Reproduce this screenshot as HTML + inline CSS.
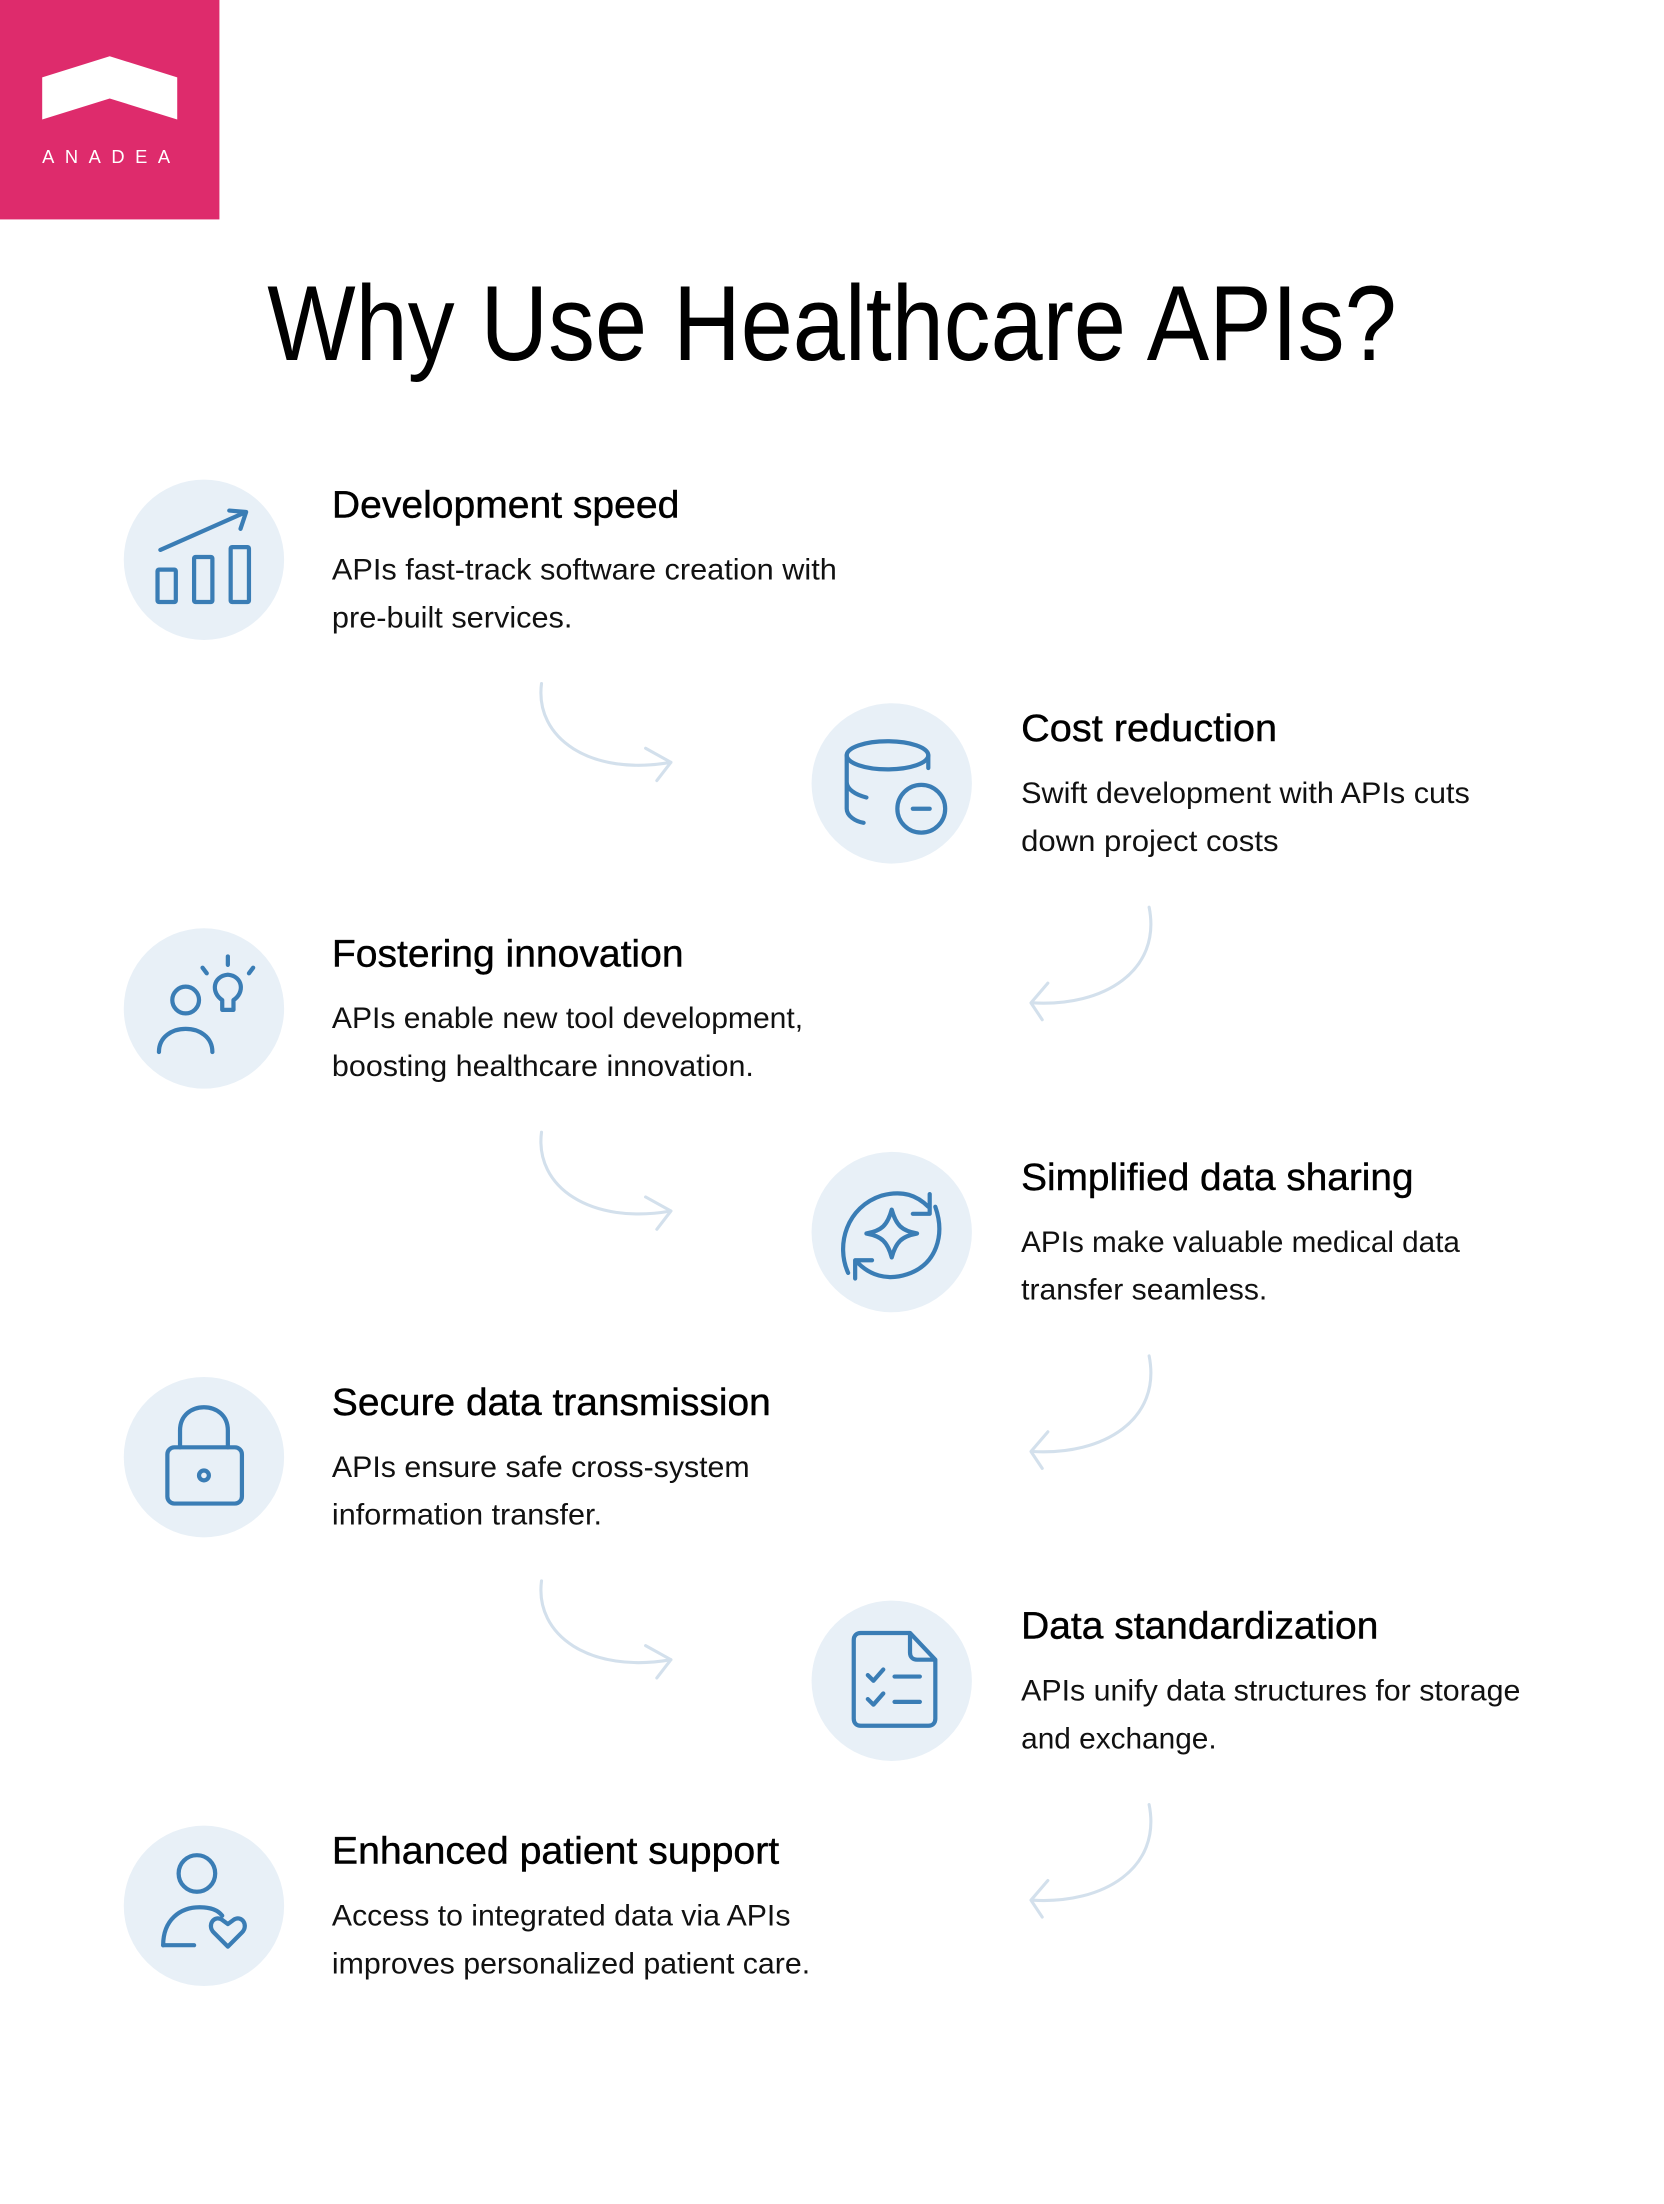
<!DOCTYPE html>
<html><head><meta charset="utf-8"><style>
html,body{margin:0;padding:0;background:#fff;width:1664px;height:2204px;overflow:hidden}
svg{display:block}
text{font-family:"Liberation Sans",sans-serif;fill:#000}
.h{font-size:27px;stroke:#000;stroke-width:0.3px}
.b{font-size:21px;fill:#111}
.ic{fill:none;stroke:#3A7DB5;stroke-width:3;stroke-linecap:round;stroke-linejoin:round}
.ar{fill:none;stroke:#D3E0EC;stroke-width:2.2;stroke-linecap:round;stroke-linejoin:round}
.c{fill:#E8F0F7}
</style></head><body>
<svg width="1664" height="2204" viewBox="0 0 1183 1567" preserveAspectRatio="xMinYMin meet" xmlns="http://www.w3.org/2000/svg">
<rect x="0" y="0" width="156" height="156" fill="#DE2B6C"/>
<polygon points="30,55 78,40 126,55 126,85 78,70 30,85" fill="#fff"/>
<text x="30" y="116" style="font-size:13px;fill:#fff;letter-spacing:7.5px">ANADEA</text>

<text x="190" y="256" style="font-size:76px" textLength="803" lengthAdjust="spacingAndGlyphs">Why Use Healthcare APIs?</text>

<circle class="c" cx="145" cy="398" r="57"/>
<circle class="c" cx="634" cy="557" r="57"/>
<circle class="c" cx="145" cy="717" r="57"/>
<circle class="c" cx="634" cy="876" r="57"/>
<circle class="c" cx="145" cy="1036" r="57"/>
<circle class="c" cx="634" cy="1195" r="57"/>
<circle class="c" cx="145" cy="1355" r="57"/>

<text class="h" x="236" y="368" textLength="247" lengthAdjust="spacingAndGlyphs">Development speed</text>
<text class="b" x="236" y="412" textLength="359" lengthAdjust="spacingAndGlyphs">APIs fast-track software creation with</text>
<text class="b" x="236" y="446" textLength="171" lengthAdjust="spacingAndGlyphs">pre-built services.</text>

<text class="h" x="726" y="527" textLength="182" lengthAdjust="spacingAndGlyphs">Cost reduction</text>
<text class="b" x="726" y="571" textLength="319" lengthAdjust="spacingAndGlyphs">Swift development with APIs cuts</text>
<text class="b" x="726" y="605" textLength="183" lengthAdjust="spacingAndGlyphs">down project costs</text>

<text class="h" x="236" y="687" textLength="250" lengthAdjust="spacingAndGlyphs">Fostering innovation</text>
<text class="b" x="236" y="731" textLength="335" lengthAdjust="spacingAndGlyphs">APIs enable new tool development,</text>
<text class="b" x="236" y="765" textLength="300" lengthAdjust="spacingAndGlyphs">boosting healthcare innovation.</text>

<text class="h" x="726" y="846" textLength="279" lengthAdjust="spacingAndGlyphs">Simplified data sharing</text>
<text class="b" x="726" y="890" textLength="312" lengthAdjust="spacingAndGlyphs">APIs make valuable medical data</text>
<text class="b" x="726" y="924" textLength="175" lengthAdjust="spacingAndGlyphs">transfer seamless.</text>

<text class="h" x="236" y="1006" textLength="312" lengthAdjust="spacingAndGlyphs">Secure data transmission</text>
<text class="b" x="236" y="1050" textLength="297" lengthAdjust="spacingAndGlyphs">APIs ensure safe cross-system</text>
<text class="b" x="236" y="1084" textLength="192" lengthAdjust="spacingAndGlyphs">information transfer.</text>

<text class="h" x="726" y="1165" textLength="254" lengthAdjust="spacingAndGlyphs">Data standardization</text>
<text class="b" x="726" y="1209" textLength="355" lengthAdjust="spacingAndGlyphs">APIs unify data structures for storage</text>
<text class="b" x="726" y="1243" textLength="139" lengthAdjust="spacingAndGlyphs">and exchange.</text>

<text class="h" x="236" y="1325" textLength="318" lengthAdjust="spacingAndGlyphs">Enhanced patient support</text>
<text class="b" x="236" y="1369" textLength="326" lengthAdjust="spacingAndGlyphs">Access to integrated data via APIs</text>
<text class="b" x="236" y="1403" textLength="340" lengthAdjust="spacingAndGlyphs">improves personalized patient care.</text>

<g id="ar1">
<path class="ar" d="M385,486 C380,525 420,552 477,542"/>
<path class="ar" d="M459,532 L477,542 L467,555"/>
</g>
<g id="ar2">
<path class="ar" d="M817,645 C826,690 785,716 734,713"/>
<path class="ar" d="M745,699 L733,713 L741,725"/>
</g>
<use href="#ar1" y="319"/>
<use href="#ar1" y="638"/>
<use href="#ar2" y="319"/>
<use href="#ar2" y="638"/>

<g class="ic">
<rect x="112" y="405" width="13" height="23" rx="1"/>
<rect x="138" y="396" width="13" height="32" rx="1"/>
<rect x="164" y="389" width="13" height="39" rx="1"/>
<path d="M114,391 L175,364 M163,363 L175,364 L171,376"/>
</g>
<g class="ic">
<ellipse cx="631" cy="537" rx="29" ry="10"/>
<path d="M602,537 V575 C602,580 608,584 614,585 M602,556 C602,561 608,565 616,567 M660,537 V546"/>
<circle cx="655" cy="575" r="17"/>
<path d="M649,575 H661"/>
</g>
<g class="ic">
<circle cx="132" cy="711" r="9.5"/>
<path d="M113,748 C113,726 151,726 151,748"/>
<path d="M158,718 V711 C150,706 151,694 162,693 C173,694 174,706 166,711 V718 Z"/>
<path d="M162,680 V686 M144,688 L147,692 M180,688 L177,692"/>
</g>
<g class="ic">
<path d="M603,905 C594,885 602,858 627,850 C642,846 652,850 660,858 M661,849 V863 H649"/>
<path d="M665,858 C672,878 666,899 645,906 C630,911 618,906 610,898 M608,909 V896 H620"/>
<path d="M634,860 C637,871 641,875 652,877 C641,879 637,883 634,894 C631,883 627,879 616,877 C627,875 631,871 634,860 Z"/>
</g>
<g class="ic">
<rect x="119" y="1029" width="53" height="40" rx="5"/>
<path d="M128,1029 V1017 C128,995 162,995 162,1017 V1029"/>
<circle cx="145" cy="1049" r="3.5"/>
</g>
<g class="ic">
<path d="M612,1161 H647 L665,1180 V1222 C665,1225 663,1227 660,1227 H612 C609,1227 607,1225 607,1222 V1166 C607,1163 609,1161 612,1161 Z M647,1161 V1175 C647,1178 649,1180 652,1180 H665"/>
<path d="M617,1191 L621,1195 L628,1187 M617,1208 L621,1212 L628,1204 M636,1192 H654 M636,1210 H654"/>
</g>
<g class="ic">
<circle cx="140" cy="1332" r="13"/>
<path d="M116,1383 C116,1365 128,1356 142,1356 C150,1356 155,1358 158,1362"/>
<path d="M162,1384 L152,1374 C147,1369 152,1361 158,1365 L162,1368 L166,1365 C172,1361 177,1369 172,1374 Z"/>
<path d="M116,1383 H138"/>
</g>
</svg>
</body></html>
